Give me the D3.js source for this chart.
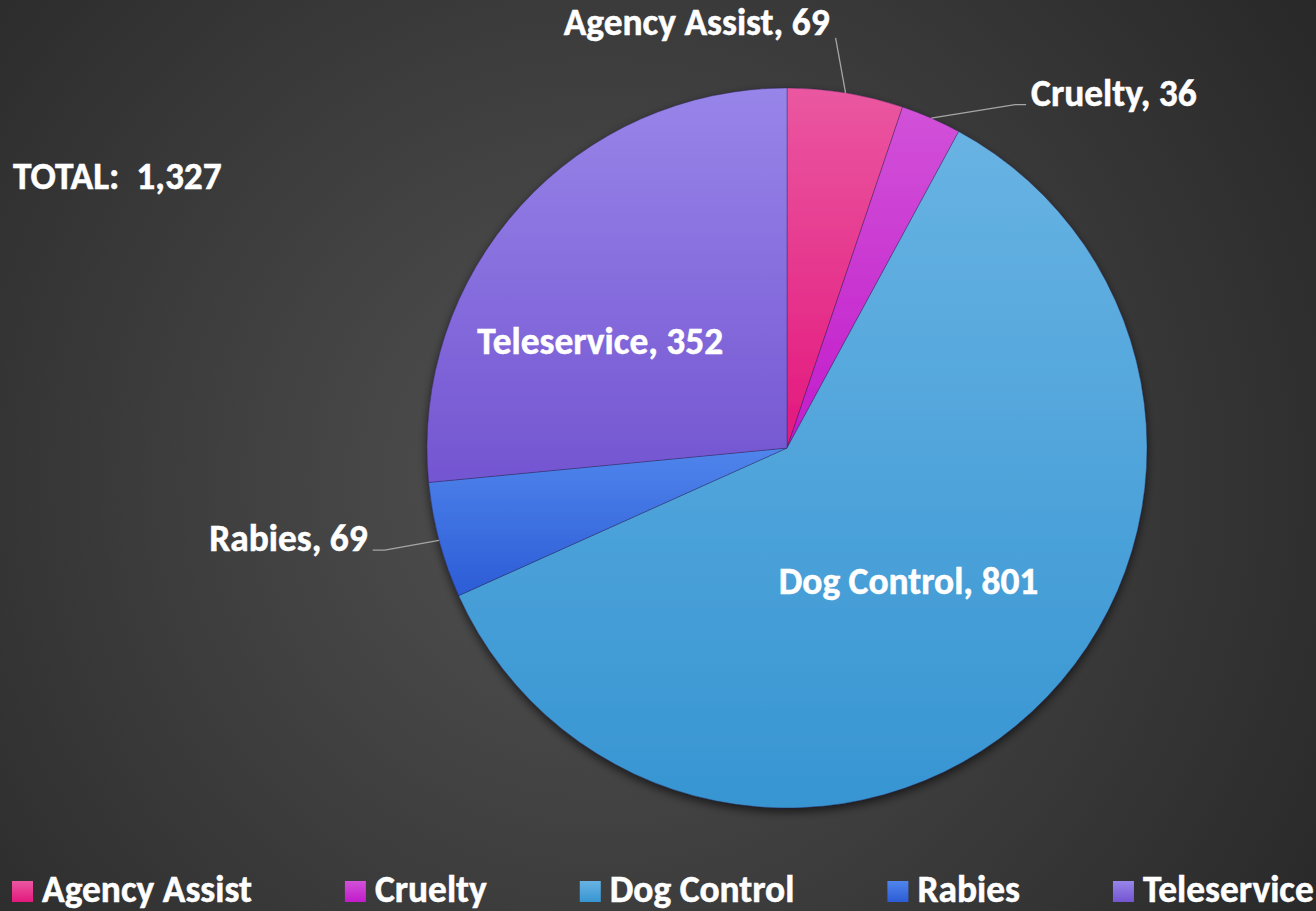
<!DOCTYPE html>
<html>
<head>
<meta charset="utf-8">
<script src="https://cdn.jsdelivr.net/npm/d3@7"></script>
<style>
  html, body { margin: 0; padding: 0; background: #333; }
  svg { display: block; }
  text { font-family: Carlito, Lato, "Open Sans", sans-serif; font-weight: bold; fill: #fff;
         stroke: #fff; stroke-width: 0.5px; }
</style>
</head>
<body>
<svg width="1316" height="911"></svg>
<script>
const categories = ["Agency Assist", "Cruelty", "Dog Control", "Rabies", "Teleservice"];
const counts = [69, 36, 801, 69, 352];
const colorTop = ["#ea57a0", "#d152d8", "#68b3e3", "#5085ec", "#9885e9"];
const colorBottom = ["#e3187d", "#c21bcb", "#3795d2", "#2c5cd6", "#7455d1"];

const svg = d3.select("svg");
const width = 1316, height = 911;
const cx = 787, cy = 448, radius = 360;

const defs = svg.append("defs");

// background
const bg = defs.append("radialGradient").attr("id", "bg")
  .attr("gradientUnits", "userSpaceOnUse")
  .attr("cx", 600).attr("cy", 480).attr("r", 900);
bg.append("stop").attr("offset", 0).attr("stop-color", "#525252");
bg.append("stop").attr("offset", 1).attr("stop-color", "#262626");
svg.append("rect").attr("width", width).attr("height", height).attr("fill", "url(#bg)");

// slice gradients, top light -> bottom dark
categories.forEach((c, i) => {
  const lg = defs.append("linearGradient").attr("id", "g" + i)
    .attr("x1", 0).attr("y1", 0).attr("x2", 0).attr("y2", 1);
  lg.append("stop").attr("offset", 0).attr("stop-color", colorTop[i]);
  lg.append("stop").attr("offset", 1).attr("stop-color", colorBottom[i]);
});

const shadow = defs.append("filter").attr("id", "shadow")
  .attr("x", "-10%").attr("y", "-10%").attr("width", "120%").attr("height", "120%");
shadow.append("feDropShadow").attr("dx", 0).attr("dy", 4).attr("stdDeviation", 5)
  .attr("flood-color", "#000").attr("flood-opacity", 0.6);

// measure font so label widths match the original
const probe = svg.append("text").attr("font-size", 100).text("Agency Assist");
const fontSize = 100 * 210 / probe.node().getComputedTextLength();
probe.remove();

const data = categories.map((c, i) => ({ name: c, value: counts[i], i }));
const total = d3.sum(counts);

const pie = d3.pie().value(d => d.value).sort(null);
const arc = d3.arc().innerRadius(0).outerRadius(radius);
const arcs = pie(data);

const g = svg.append("g").attr("transform", `translate(${cx},${cy})`);

g.append("g").attr("filter", "url(#shadow)")
  .selectAll("path").data(arcs).enter().append("path")
  .attr("d", arc)
  .attr("fill", d => `url(#g${d.data.i})`)
  .attr("stroke", "rgba(40,30,80,0.45)")
  .attr("stroke-width", 0.8);

function polar(a, r) { return [r * Math.sin(a), -r * Math.cos(a)]; }
const deg = Math.PI / 180;

// label placement tweaks (angle shift, radius factor)
const labelLayout = {
  "Agency Assist": { out: true, da: -2.6, rf: 1.147, hook: 0, anchor: "end", dx: -6, dy: -3 },
  "Cruelty": { out: true, da: 10, rf: 1.145, hook: 11, anchor: "start", dx: 5, dy: 1 },
  "Dog Control": { out: false, da: 0.4, rf: 0.5 },
  "Rabies": { out: true, da: 0.6, rf: 1.153, hook: -12, anchor: "end", dx: -5, dy: 1 },
  "Teleservice": { out: false, da: -12.4, rf: 0.598 }
};

arcs.forEach(d => {
  const L = labelLayout[d.data.name];
  const mid = (d.startAngle + d.endAngle) / 2;
  const txt = `${d.data.name}, ${d.data.value}`;
  if (L.out) {
    const p0 = polar(mid, radius);
    const p1 = polar(mid + L.da * deg, radius * L.rf);
    const p2 = [p1[0] + L.hook, p1[1]];
    g.append("polyline")
      .attr("points", [p0, p1, p2].map(p => p.join(",")).join(" "))
      .attr("fill", "none").attr("stroke", "#a6a6a6").attr("stroke-width", 1.3);
    g.append("text")
      .attr("x", p2[0] + L.dx).attr("y", p2[1] + L.dy)
      .attr("text-anchor", L.anchor)
      .attr("font-size", fontSize)
      .text(txt);
  } else {
    const p = polar(mid + L.da * deg, radius * L.rf);
    g.append("text")
      .attr("x", p[0]).attr("y", p[1])
      .attr("text-anchor", "middle")
      .attr("dy", "0.35em")
      .attr("font-size", fontSize)
      .text(txt);
  }
});

// total
svg.append("text")
  .attr("x", 13).attr("y", 189)
  .attr("font-size", fontSize)
  .attr("xml:space", "preserve")
  .style("white-space", "pre")
  .text("TOTAL:  " + d3.format(",")(total));

// legend
const legend = svg.append("g").attr("transform", "translate(12,902)");
let lx = 0;
data.forEach(d => {
  const item = legend.append("g").attr("transform", `translate(${lx},0)`);
  item.append("rect").attr("x", 0).attr("y", -21).attr("width", 21).attr("height", 21)
    .attr("fill", `url(#g${d.i})`);
  const t = item.append("text").attr("x", 30).attr("y", 0)
    .attr("font-size", fontSize).text(d.name);
  lx += 30 + t.node().getComputedTextLength() + 93;
});
</script>
</body>
</html>
